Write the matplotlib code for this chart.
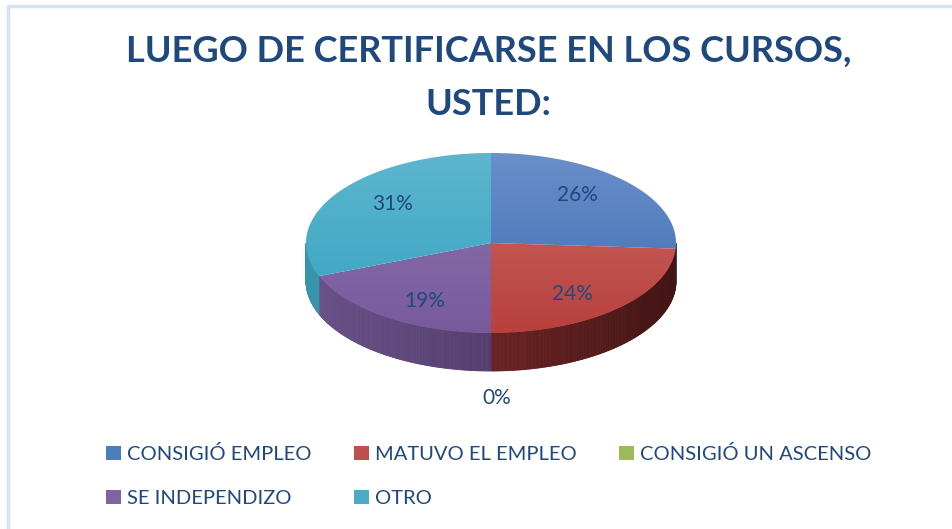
import numpy as np
import matplotlib
matplotlib.use("Agg")
import matplotlib.pyplot as plt
from matplotlib.patches import Polygon, Patch
from matplotlib.colors import to_rgb

# data
labels = ["CONSIGIÓ EMPLEO", "MATUVO EL EMPLEO", "CONSIGIÓ UN ASCENSO",
          "SE INDEPENDIZO", "OTRO"]
values = [26, 24, 0, 19, 31]
title = "LUEGO DE CERTIFICARSE EN LOS CURSOS,\nUSTED:"

# style
top_light = ["#6a8fca", "#cc6a66", "#a9c66e", "#8c74b0", "#5eb6ce"]
top_dark = ["#3c6cb0", "#b8403d", "#8aac48", "#785a9c", "#35a2c2"]
side_light = ["#35609a", "#6a2222", "#6c8a30", "#6b5289", "#3795ab"]
side_dark = ["#2b4f80", "#431515", "#556d25", "#3c2a52", "#2a7f93"]
legend_col = ["#4a7ebb", "#c0504d", "#9bbb59", "#8064a2", "#4bacc6"]
text_col = "#1f497d"

W, H = 953, 529
cx, cy = 491, 243      # pie centre (pixels)
rx, ry = 185, 90       # ellipse radii
depth = 38             # thickness of the 3d pie

fig = plt.figure(figsize=(W / 100, H / 100), dpi=100)
ax = fig.add_axes([0, 0, 1, 1])
ax.set_xlim(0, W)
ax.set_ylim(H, 0)
ax.axis("off")

# chart frame (light blue border on left / top)
ax.plot([8, 8, W], [H, 5.5, 5.5], color="#d6e3f3", lw=2.5, zorder=0)


def ell(t):
    t = np.radians(t)
    return cx + rx * np.cos(t), cy - ry * np.sin(t)


def mix(c1, c2, f):
    a, b = np.array(to_rgb(c1)), np.array(to_rgb(c2))
    return a + (b - a) * f


total = float(sum(values))
angles = [90.0]
for v in values:
    angles.append(angles[-1] - 360.0 * v / total)

# side walls (front half only: angle between -180 and 0)
for i, v in enumerate(values):
    a0, a1 = angles[i], angles[i + 1]
    lo, hi = max(a1, -180.0), min(a0, 0.0)
    if v == 0 or hi <= lo:
        continue
    n = max(int((hi - lo) * 2), 2)
    ts = np.linspace(hi, lo, n + 1)
    for k in range(n):
        x0, y0 = ell(ts[k])
        x1, y1 = ell(ts[k + 1])
        # shade by position along the front
        f = (np.cos(np.radians((ts[k] + ts[k + 1]) / 2)) + 1) / 2
        if i == 1:
            f = 1 - abs(np.cos(np.radians((ts[k] + ts[k + 1]) / 2)))
            c = mix(side_dark[i], side_light[i], f)
        else:
            c = mix(side_light[i], side_dark[i], f)
        ax.add_patch(Polygon([(x0, y0), (x1, y1), (x1, y1 + depth),
                              (x0, y0 + depth)], closed=True, fc=c, ec=c,
                             lw=0.6, zorder=1))

# top faces with vertical gradient
grad = np.linspace(0, 1, 256)
for i, v in enumerate(values):
    if v == 0:
        continue
    ts = np.linspace(angles[i], angles[i + 1], 200)
    xs, ys = ell(ts)
    pts = [(cx, cy)] + list(zip(xs, ys))
    poly = Polygon(pts, closed=True, fc="none", ec="none")
    ax.add_patch(poly)
    img = np.array([mix(top_light[i], top_dark[i], g) for g in grad])
    img = img.reshape(256, 1, 3)
    im = ax.imshow(img, extent=(cx - rx, cx + rx, cy + ry, cy - ry),
                   aspect="auto", interpolation="bilinear", zorder=2)
    im.set_clip_path(poly)

# percentage labels
for i, v in enumerate(values):
    mid = (angles[i] + angles[i + 1]) / 2
    if v == 0:
        x, y = ell(mid)
        ax.text(x + 6, y + depth + 27, f"{v}%", color=text_col, fontsize=15,
                family="Lato", ha="center", va="center", zorder=3)
        continue
    t = np.radians(mid)
    x = cx + 0.64 * rx * np.cos(t)
    y = cy - 0.78 * ry * np.sin(t)
    ax.text(x, y, f"{v}%", color=text_col, fontsize=15, family="Lato",
            ha="center", va="center", zorder=3)

ax.text(W / 2 + 12, 78, title, color=text_col, fontsize=26,
        family="Lato", weight="bold",
        ha="center", va="center", linespacing=1.75)

# legend, row-wise order like the original
handles = [Patch(fc=c, ec="none") for c in legend_col]
order = [0, 3, 1, 4, 2]
leg = ax.legend([handles[k] for k in order], [labels[k] for k in order],
                ncol=3, loc="upper left", bbox_to_anchor=(88 / W, 1 - 427 / H),
                frameon=False, handlelength=0.75,
                handleheight=0.75, handletextpad=0.3, columnspacing=2.1,
                labelspacing=1.32, prop={"family": "Lato", "size": 14.5})
for t in leg.get_texts():
    t.set_color(text_col)

fig.savefig("out.png", dpi=100, facecolor="white")
